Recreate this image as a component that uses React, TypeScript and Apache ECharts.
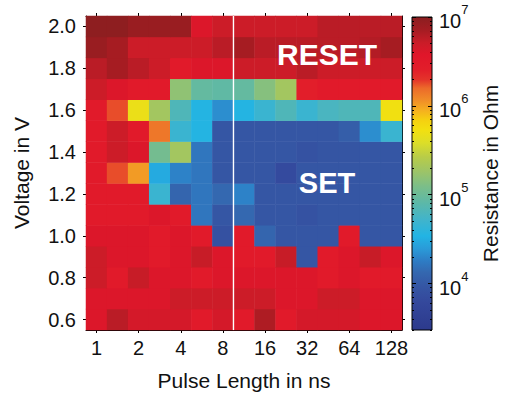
import React, { useEffect, useRef } from "react";
import * as echarts from "echarts";

// Pulse length in ns (half-octave steps); only powers of two are labelled
const pulseLengths = ["1", "1.4", "2", "2.8", "4", "5.7", "8", "11", "16", "23", "32", "45", "64", "91", "128"];
// Voltage in V, bottom to top
const voltages = ["0.6", "0.7", "0.8", "0.9", "1.0", "1.1", "1.2", "1.3", "1.4", "1.5", "1.6", "1.7", "1.8", "1.9", "2.0"];

// log10(Resistance in Ohm), one array per voltage row, columns follow pulseLengths
const r2_0 = [6.98, 6.98, 6.92, 6.92, 6.92, 6.6, 6.7, 6.7, 6.7, 6.7, 6.7, 6.77, 6.77, 6.77, 6.77];
const r1_9 = [6.92, 6.85, 6.7, 6.7, 6.7, 6.7, 6.77, 6.85, 6.77, 6.77, 6.77, 6.77, 6.77, 6.8, 6.85];
const r1_8 = [6.77, 6.85, 6.77, 6.7, 6.5, 6.6, 6.6, 6.7, 6.7, 6.7, 6.77, 6.7, 6.7, 6.7, 6.7];
const r1_7 = [6.7, 6.6, 6.5, 6.5, 5.2, 4.95, 4.93, 4.95, 5.15, 5.3, 6.42, 6.5, 6.5, 6.5, 6.5];
const r1_6 = [6.5, 6.25, 5.68, 5.3, 4.82, 4.55, 4.33, 4.55, 4.68, 4.82, 4.68, 4.78, 4.82, 4.82, 5.72];
const r1_5 = [6.5, 6.7, 6.5, 6.15, 4.68, 4.55, 3.97, 3.97, 3.97, 3.97, 3.97, 3.97, 4.04, 4.33, 4.68];
const r1_4 = [6.5, 6.7, 6.6, 5.05, 5.3, 4.22, 3.97, 3.97, 3.97, 3.97, 3.92, 3.95, 3.95, 3.97, 3.97];
const r1_3 = [6.5, 6.25, 6.02, 4.48, 4.28, 4.22, 3.97, 3.97, 3.97, 3.82, 3.97, 3.97, 3.97, 3.97, 3.97];
const r1_2 = [6.5, 6.5, 6.5, 4.68, 4.1, 4.22, 4.13, 4.28, 3.97, 3.97, 3.97, 3.97, 3.97, 3.97, 3.97];
const r1_1 = [6.5, 6.5, 6.5, 6.6, 6.5, 4.22, 3.97, 4.13, 3.97, 3.97, 3.92, 3.97, 3.97, 3.97, 3.97];
const r1_0 = [6.6, 6.6, 6.6, 6.5, 6.6, 6.5, 3.9, 6.5, 4.1, 3.97, 3.97, 3.97, 6.5, 3.97, 3.97];
const r0_9 = [6.7, 6.6, 6.6, 6.5, 6.6, 6.72, 6.6, 6.5, 6.5, 6.72, 3.97, 6.5, 6.6, 6.72, 6.6];
const r0_8 = [6.7, 6.5, 6.72, 6.6, 6.6, 6.5, 6.6, 6.6, 6.6, 6.6, 6.6, 6.5, 6.6, 6.5, 6.5];
const r0_7 = [6.6, 6.6, 6.6, 6.6, 6.7, 6.7, 6.7, 6.7, 6.7, 6.6, 6.6, 6.7, 6.7, 6.6, 6.6];
const r0_6 = [6.6, 6.77, 6.65, 6.65, 6.65, 6.5, 6.65, 6.5, 6.82, 6.5, 6.65, 6.65, 6.65, 6.6, 6.6];

// rows bottom (0.6 V) to top (2.0 V)
const rowsBottomUp = [r0_6, r0_7, r0_8, r0_9, r1_0, r1_1, r1_2, r1_3, r1_4, r1_5, r1_6, r1_7, r1_8, r1_9, r2_0];

// measurement-set boundary drawn after this pulse length
const boundaryAfter = "8";

// colour bar range (log10 Ohm) and ticks
const cbMin = Math.log10(3000);
const cbMax = 7;
const cbMajor = [4, 5, 6, 7];
const cbMinorMultipliers = [3, 4, 5, 6, 7, 8, 9, 20, 30, 40, 50, 60, 70, 80, 90, 200, 300, 400, 500, 600, 700, 800, 900, 2000, 3000, 4000, 5000, 6000, 7000, 8000, 9000];

// colormap stops: [log10 value, colour]
const cmapStops: [number, string][] = [
  [3.477, "#2C3A8C"],
  [3.79, "#34489C"],
  [3.97, "#3556A4"],
  [4.128, "#3468B0"],
  [4.252, "#2E7CC4"],
  [4.387, "#2A9AD8"],
  [4.534, "#22B4E4"],
  [4.714, "#40B4CC"],
  [4.906, "#5CB8A8"],
  [5.098, "#7CBE88"],
  [5.256, "#9CC468"],
  [5.425, "#B8CC48"],
  [5.583, "#DCDE28"],
  [5.729, "#F2E010"],
  [5.842, "#F5D010"],
  [5.955, "#F5AE20"],
  [6.068, "#F08C28"],
  [6.2, "#EC6A2A"],
  [6.293, "#E4342A"],
  [6.406, "#E21E2A"],
  [6.575, "#E0162A"],
  [6.71, "#CA1C28"],
  [6.857, "#A41C22"],
  [7.0, "#8B1E20"],
];

function hexToRgb(h: string) {
  const n = parseInt(h.slice(1), 16);
  return [(n >> 16) & 255, (n >> 8) & 255, n & 255];
}
function colorAt(v: number) {
  if (v <= cmapStops[0][0]) return cmapStops[0][1];
  for (let i = 1; i < cmapStops.length; i++) {
    const [v1, c1] = cmapStops[i];
    const [v0, c0] = cmapStops[i - 1];
    if (v <= v1) {
      const t = (v - v0) / (v1 - v0);
      const a = hexToRgb(c0);
      const b = hexToRgb(c1);
      const m = a.map((x, k) => Math.round(x + (b[k] - x) * t));
      return `rgb(${m[0]},${m[1]},${m[2]})`;
    }
  }
  return cmapStops[cmapStops.length - 1][1];
}

const FONT = "'Liberation Sans', Arial, Helvetica, sans-serif";
const TXT = "#111";

export default function App() {
  const ref = useRef<HTMLDivElement>(null);

  useEffect(() => {
    if (!ref.current) return;
    const chart = echarts.init(ref.current, undefined, { renderer: "svg" });

    const data: [number, number, number][] = [];
    rowsBottomUp.forEach((row, yi) => row.forEach((v, xi) => data.push([xi, yi, v])));

    const N = 120;
    const vmColors: string[] = [];
    for (let i = 0; i < N; i++) vmColors.push(colorAt(cbMin + ((cbMax - cbMin) * i) / (N - 1)));

    const gradStops = cmapStops.map(([v, c]) => ({ offset: Math.min(1, Math.max(0, (cbMax - v) / (cbMax - cbMin))), color: c }));
    gradStops.sort((a, b) => a.offset - b.offset);

    const minorVals: number[] = [];
    cbMinorMultipliers.forEach((m) => {
      const lv = Math.log10(m * 1000);
      if (lv >= cbMin - 1e-9 && lv <= cbMax) minorVals.push(lv);
    });
    const majorVals = cbMajor.slice();

    const heatGrid = { left: 86, top: 16, width: 316, height: 315 };
    const cbGrid = { left: 412, top: 17, width: 20, height: 313 };

    const catAxisCommon = {
      type: "category",
      gridIndex: 0,
      boundaryGap: true,
      axisLine: { show: true, lineStyle: { color: "#000", width: 1 } },
      axisTick: { show: true, alignWithLabel: true, interval: 1, length: 3, lineStyle: { color: "#000" } },
      splitLine: { show: false },
    };

    const option: any = {
      animation: false,
      backgroundColor: "#fff",
      textStyle: { fontFamily: FONT },
      grid: [
        { ...heatGrid, show: false, containLabel: false },
        {
          ...cbGrid,
          show: true,
          backgroundColor: new echarts.graphic.LinearGradient(0, 0, 0, 1, gradStops),
          borderColor: "#000",
          borderWidth: 1,
          containLabel: false,
        },
      ],
      xAxis: [
        {
          ...catAxisCommon,
          data: pulseLengths,
          position: "bottom",
          axisLabel: { interval: 1, margin: 8, fontSize: 20, color: TXT, fontFamily: FONT },
          name: "Pulse Length in ns",
          nameLocation: "middle",
          nameGap: 40,
          nameTextStyle: { fontSize: 21, color: TXT, fontFamily: FONT },
        },
        {
          ...catAxisCommon,
          data: pulseLengths,
          position: "top",
          axisLabel: { show: false },
        },
        { type: "value", gridIndex: 1, min: 0, max: 1, show: false },
      ],
      yAxis: [
        {
          ...catAxisCommon,
          data: voltages,
          position: "left",
          axisLabel: { interval: 1, margin: 10, fontSize: 20, color: TXT, fontFamily: FONT },
          name: "Voltage in V",
          nameLocation: "middle",
          nameGap: 54,
          nameRotate: 90,
          nameTextStyle: { fontSize: 21, color: TXT, fontFamily: FONT },
        },
        {
          ...catAxisCommon,
          data: voltages,
          position: "right",
          axisLabel: { show: false },
        },
        {
          type: "value",
          gridIndex: 1,
          min: cbMin,
          max: cbMax,
          position: "left",
          axisLine: { show: false },
          axisTick: { show: true, inside: true, length: 4, customValues: majorVals, lineStyle: { color: "#000" } },
          axisLabel: { show: false },
          splitLine: { show: false },
        },
        {
          type: "value",
          gridIndex: 1,
          min: cbMin,
          max: cbMax,
          position: "right",
          axisLine: { show: false },
          axisTick: { show: true, inside: true, length: 4, customValues: majorVals, lineStyle: { color: "#000" } },
          axisLabel: {
            show: true,
            customValues: majorVals,
            margin: 7,
            formatter: (v: number) => `{b|10}{s|${Math.round(v)}}`,
            rich: {
              b: { fontSize: 20, color: TXT, fontFamily: FONT, lineHeight: 28, verticalAlign: "bottom" },
              s: { fontSize: 13, color: TXT, fontFamily: FONT, lineHeight: 28, verticalAlign: "top" },
            },
          },
          splitLine: { show: false },
          name: "Resistance in Ohm",
          nameLocation: "middle",
          nameRotate: 90,
          nameGap: 48,
          nameTextStyle: { fontSize: 21, color: TXT, fontFamily: FONT },
        },
        {
          type: "value",
          gridIndex: 1,
          min: cbMin,
          max: cbMax,
          position: "left",
          axisLine: { show: false },
          axisTick: { show: true, inside: true, length: 2, customValues: minorVals, lineStyle: { color: "#000" } },
          axisLabel: { show: false },
          splitLine: { show: false },
        },
        {
          type: "value",
          gridIndex: 1,
          min: cbMin,
          max: cbMax,
          position: "right",
          axisLine: { show: false },
          axisTick: { show: true, inside: true, length: 2, customValues: minorVals, lineStyle: { color: "#000" } },
          axisLabel: { show: false },
          splitLine: { show: false },
        },
      ],
      visualMap: {
        type: "continuous",
        show: false,
        min: cbMin,
        max: cbMax,
        dimension: 2,
        seriesIndex: 0,
        inRange: { color: vmColors },
      },
      series: [
        {
          type: "heatmap",
          xAxisIndex: 0,
          yAxisIndex: 0,
          data,
          itemStyle: { borderWidth: 0 },
          emphasis: { disabled: true },
          silent: true,
        },
        {
          type: "custom",
          xAxisIndex: 0,
          yAxisIndex: 0,
          silent: true,
          z: 10,
          data: [[pulseLengths.indexOf(boundaryAfter), 0]],
          renderItem: (params: any, api: any) => {
            const c = api.coord([api.value(0), api.value(1)]);
            const s = api.size([1, 1]);
            const x = c[0] + s[0] / 2;
            const cs = params.coordSys;
            return {
              type: "line",
              shape: { x1: x, y1: cs.y, x2: x, y2: cs.y + cs.height },
              style: { stroke: "#fff", lineWidth: 1.4 },
            };
          },
        },
      ],
      graphic: [
        {
          type: "text",
          x: 327,
          y: 54,
          z: 20,
          style: { text: "RESET", fill: "#fff", font: `bold 30px ${FONT}`, textAlign: "center", textVerticalAlign: "middle" },
        },
        {
          type: "text",
          x: 327,
          y: 183,
          z: 20,
          style: { text: "SET", fill: "#fff", font: `bold 29px ${FONT}`, textAlign: "center", textVerticalAlign: "middle" },
        },
      ],
    };

    chart.setOption(option);
    return () => chart.dispose();
  }, []);

  return <div ref={ref} style={{ position: "fixed", left: 0, top: 0, width: 505, height: 396, background: "#fff" }} />;
}
